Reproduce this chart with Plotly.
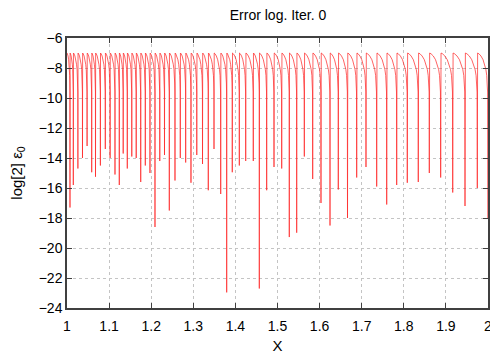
import plotly.graph_objects as go

# Spike (zero-crossing) locations
spike_x = [1.0071, 1.0150, 1.0259, 1.0368, 1.0477, 1.0587, 1.0677, 1.0793, 1.0910, 1.1024,
           1.1140, 1.1242, 1.1335, 1.1432, 1.1539, 1.1644, 1.1751, 1.1860, 1.1971, 1.2090,
           1.2204, 1.2316, 1.2430, 1.2565, 1.2691, 1.2819, 1.2945, 1.3083, 1.3219, 1.3356,
           1.3492, 1.3651, 1.3793, 1.3926, 1.4093, 1.4245, 1.4425, 1.4568, 1.4743, 1.4917,
           1.5100, 1.5280, 1.5456, 1.5637, 1.5836, 1.6033, 1.6247, 1.6444, 1.6663, 1.6881,
           1.7102, 1.7356, 1.7594, 1.7831, 1.8083, 1.8344, 1.8606, 1.8876, 1.9162, 1.9454,
           1.9746, 1.9995]
# Depth of each spike (log2 error)
spike_y = [-17.3, -15.8, -14.7, -14.0, -13.2, -14.95, -15.25, -14.5, -13.4, -14.0,
           -15.1, -15.8, -13.7, -14.7, -13.9, -14.0, -15.6, -14.5, -15.0, -18.6,
           -14.2, -13.8, -17.5, -15.5, -14.0, -14.3, -15.65, -13.8, -14.4, -16.15,
           -13.4, -16.4, -22.96, -14.95, -14.5, -14.2, -14.2, -22.7, -16.15, -14.6,
           -14.7, -19.27, -18.98, -13.9, -15.4, -17.0, -18.5, -16.1, -18.0, -15.3,
           -14.6, -15.9, -17.1, -15.8, -15.65, -15.6, -15.0, -15.3, -16.3, -17.2,
           -16.0, -18.0]
# Top level of the curve between spikes
peak_level = -7.0
# Typical shape of one tooth (fraction of tooth width, drop below the peak)
tooth_t = [0.03, 0.15, 0.35, 0.55, 0.70, 0.82, 0.90, 0.95, 0.98]
tooth_dy = [0.0, -0.05, -0.2, -0.45, -0.75, -1.1, -1.5, -2.0, -2.6]

x_ticks = [1, 1.1, 1.2, 1.3, 1.4, 1.5, 1.6, 1.7, 1.8, 1.9, 2]
x_labels = ["1", "1.1", "1.2", "1.3", "1.4", "1.5", "1.6", "1.7", "1.8", "1.9", "2"]
y_ticks = [-6, -8, -10, -12, -14, -16, -18, -20, -22, -24]

xs, ys = [], []
start = 1.0
for sx, sy in zip(spike_x, spike_y):
    w = sx - start
    for t, dy in zip(tooth_t, tooth_dy):
        xs.append(start + t * w)
        ys.append(peak_level + dy)
    xs.append(sx)
    ys.append(sy)
    start = sx

fig = go.Figure()
fig.add_trace(go.Scatter(x=xs, y=ys, mode="lines", cliponaxis=True,
                         line=dict(color="#ff2020", width=0.7), showlegend=False))

font = dict(family="Liberation Sans, Arial, sans-serif", size=14, color="#000")
axis_common = dict(showline=True, mirror="allticks", linecolor="#404040", linewidth=1.5,
                   ticks="inside", ticklen=5, tickcolor="#404040", showgrid=True,
                   gridcolor="#c4c4c4", griddash="dot", gridwidth=1, zeroline=False,
                   tickfont=font)
fig.update_layout(
    width=490, height=348,
    margin=dict(l=59, r=10, t=30, b=48, autoexpand=False),
    plot_bgcolor="white", paper_bgcolor="white",
    font=font,
    title=dict(text="Error log. Iter. 0", x=270 / 490, xanchor="center",
               y=1 - 7 / 348, yanchor="middle", font=dict(size=14)),
    xaxis=dict(range=[1, 2], tickvals=x_ticks, ticktext=x_labels, ticklabelstandoff=4,
               title=dict(text="X", standoff=8, font=dict(size=15)), **axis_common),
    yaxis=dict(range=[-24, -6], tickvals=y_ticks,
               title=dict(text="log[2] ε<sub>0</sub>", standoff=14, font=dict(size=15)),
               **axis_common),
)
fig.write_html("out.html")
